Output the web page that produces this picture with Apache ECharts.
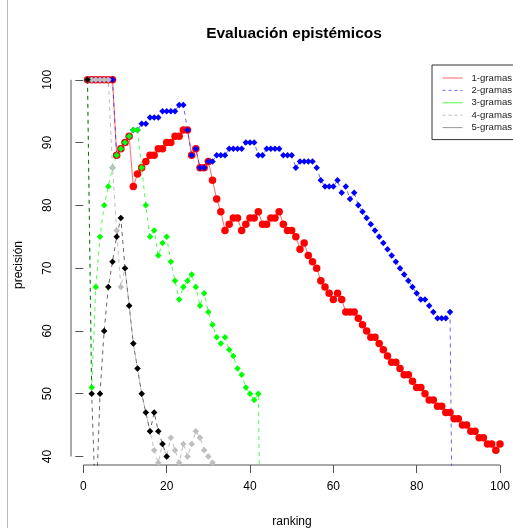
<!DOCTYPE html>
<html lang="es">
<head>
<meta charset="UTF-8">
<title>Evaluación epistémicos</title>
<script src="https://cdn.jsdelivr.net/npm/echarts@6/dist/echarts.min.js"></script>
<style>
    html, body { margin: 0; padding: 0; background: #fff; }
    #main { width: 513px; height: 528px; }
</style>
</head>
<body>
<div id="main"></div>
<script>
    // precision por ranking (posicion 1..n) para cada n-grama
    var nombres = ['1-gramas', '2-gramas', '3-gramas', '4-gramas', '5-gramas'];
    var gramas1 = [100, 100, 100, 100, 100, 100, 100, 88, 89, 90,
        91, 83, 85, 86, 87, 88, 88, 89, 89, 90,
        90, 91, 91, 92, 92, 88, 89, 86, 86, 87,
        84, 81, 79, 76, 77, 78, 78, 76, 77, 78,
        78, 79, 77, 77, 78, 78, 79, 77, 76, 76,
        75, 73, 74, 72, 71, 70, 68, 67, 66, 65,
        66, 65, 63, 63, 63, 62, 61, 60, 59, 59,
        58, 57, 56, 55, 55, 54, 53, 53, 52, 51,
        51, 50, 49, 49, 48, 48, 47, 47, 46, 46,
        45, 45, 44, 44, 43, 43, 42, 42, 41, 42];
    var gramas2 = [100, 100, 100, 100, 100, 100, 100, 88, 89, 90,
        91, 92, 92, 93, 93, 94, 94, 94, 95, 95,
        95, 95, 96, 96, 92, 88, 89, 86, 86, 87,
        87, 88, 88, 88, 89, 89, 89, 89, 90, 90,
        90, 88, 88, 89, 89, 89, 89, 88, 88, 88,
        86, 87, 87, 87, 87, 86, 84, 83, 83, 83,
        84, 82, 83, 81, 82, 80, 79, 78, 77, 76,
        75, 74, 73, 72, 71, 70, 69, 68, 67, 66,
        65, 65, 64, 63, 62, 62, 62, 63, 0];
    var gramas3 = [100, 51, 67, 75, 80, 83, 86, 88, 89, 90,
        91, 92, 92, 86, 80, 75, 76, 72, 74, 75,
        71, 68, 65, 67, 68, 69, 67, 64, 66, 63,
        61, 59, 58, 59, 57, 56, 54, 53, 51, 50,
        49, 50, 0];
    var gramas4 = [100, 100, 100, 100, 100, 100, 86, 76, 67, 70,
        64, 58, 54, 50, 47, 44, 41, 39, 42, 40,
        43, 41, 39, 42, 40, 42, 44, 43, 41, 40, 39];
    var gramas5 = [100, 50, 31, 50, 60, 67, 71, 75, 78, 70,
        64, 58, 54, 50, 47, 44, 47, 44, 42, 40];

    var xTicks = [0, 20, 40, 60, 80, 100];
    var yTicks = [40, 50, 60, 70, 80, 90, 100];
    // rango del dibujo como en R (datos +- 4%), cortado por la derecha
    var xMin = -2.96, xMax = 103.12;
    var yMin = 38.64, yMax = 102.36;

    var fuente = 'Liberation Sans, Arial, Helvetica, sans-serif';
    var gris = '#555';

    function pares(arr) {
        return arr.map(function (v, i) { return [i + 1, v]; });
    }

    var chart = echarts.init(document.getElementById('main'));

    var option = {
        animation: false,
        backgroundColor: '#fff',
        title: {
            text: 'Evaluación epistémicos',
            left: 294,
            top: 26,
            padding: 0,
            textAlign: 'center',
            textStyle: { fontFamily: fuente, fontSize: 15.5, fontWeight: 'bold', color: '#000' }
        },
        grid: { left: 71, top: 65, right: 0, height: 400, outerBoundsMode: 'none' },
        legend: {
            orient: 'vertical',
            left: 432,
            top: 65,
            padding: [8, 30, 7, 10],
            itemWidth: 20,
            itemHeight: 10,
            itemGap: 2.4,
            borderColor: '#333',
            borderWidth: 1,
            backgroundColor: '#fff',
            selectedMode: false,
            itemStyle: { opacity: 0 },
            lineStyle: { width: 1 },
            textStyle: { fontFamily: fuente, fontSize: 9.6, color: '#222', padding: [0, 0, 0, 4] },
            data: [
                { name: nombres[0], lineStyle: { type: 'solid', width: 1 } },
                { name: nombres[1], lineStyle: { type: [3, 3], width: 1 } },
                { name: nombres[2], lineStyle: { type: 'solid', width: 1 } },
                { name: nombres[3], lineStyle: { type: [3, 3], width: 1 } },
                { name: nombres[4], lineStyle: { type: 'solid', width: 1, color: '#555' } }
            ]
        },
        xAxis: {
            type: 'value',
            min: xMin,
            max: xMax,
            name: 'ranking',
            nameLocation: 'middle',
            nameGap: 51,
            nameTextStyle: { fontFamily: fuente, fontSize: 12, color: '#000' },
            axisLine: { show: false },
            splitLine: { show: false },
            axisTick: { show: true, length: 8, customValues: xTicks, lineStyle: { color: gris } },
            axisLabel: { customValues: xTicks, margin: 16, fontFamily: fuente, fontSize: 12, color: '#000' }
        },
        yAxis: {
            type: 'value',
            min: yMin,
            max: yMax,
            name: 'precisión',
            nameLocation: 'middle',
            nameGap: 46,
            nameTextStyle: { fontFamily: fuente, fontSize: 12, color: '#000' },
            axisLine: { show: false },
            splitLine: { show: false },
            axisTick: { show: true, length: 8, customValues: yTicks, lineStyle: { color: gris } },
            axisLabel: { customValues: yTicks, rotate: 90, margin: 17, fontFamily: fuente, fontSize: 12, color: '#000' }
        },
        series: [
            {
                name: nombres[0], type: 'line', data: pares(gramas1), clip: true, showAllSymbol: true,
                symbol: 'circle', symbolSize: 7.5,
                itemStyle: { color: '#ff0000' },
                lineStyle: { color: '#ff0000', width: 1, opacity: 0.6 }
            },
            {
                name: nombres[1], type: 'line', data: pares(gramas2), clip: true, showAllSymbol: true,
                symbol: 'diamond', symbolSize: 6.5,
                itemStyle: { color: '#0000ff' },
                lineStyle: { color: '#0000ff', width: 1, type: [4, 4], opacity: 0.6 }
            },
            {
                name: nombres[2], type: 'line', data: pares(gramas3), clip: true, showAllSymbol: true,
                symbol: 'diamond', symbolSize: 6.5,
                itemStyle: { color: '#00ff00' },
                lineStyle: { color: '#00ff00', width: 1, type: [4, 4], opacity: 0.7 }
            },
            {
                name: nombres[3], type: 'line', data: pares(gramas4), clip: true, showAllSymbol: true,
                symbol: 'diamond', symbolSize: 6.5,
                itemStyle: { color: '#bebebe' },
                lineStyle: { color: '#bebebe', width: 1, type: [4, 4] }
            },
            {
                name: nombres[4], type: 'line', data: pares(gramas5), clip: true, showAllSymbol: true,
                symbol: 'diamond', symbolSize: 6.5,
                itemStyle: { color: '#000000' },
                lineStyle: { color: '#000000', width: 1, type: [4, 4], opacity: 0.6 }
            }
        ]
    };
    chart.setOption(option);

    // lineas de los ejes al estilo R: solo entre el primer y el ultimo tick
    var esquina = chart.convertToPixel({ gridIndex: 0 }, [xMin, yMin]);
    var ini = chart.convertToPixel({ gridIndex: 0 }, [xTicks[0], yTicks[0]]);
    var fin = chart.convertToPixel({ gridIndex: 0 }, [xTicks[xTicks.length - 1], yTicks[yTicks.length - 1]]);
    chart.setOption({
        graphic: [
            {
                type: 'line', silent: true,
                shape: { x1: ini[0], y1: esquina[1], x2: fin[0], y2: esquina[1] },
                style: { stroke: gris, lineWidth: 1 }
            },
            {
                type: 'line', silent: true,
                shape: { x1: esquina[0], y1: ini[1], x2: esquina[0], y2: fin[1] },
                style: { stroke: gris, lineWidth: 1 }
            },
            {
                // borde gris a la izquierda de la imagen
                type: 'line', silent: true,
                shape: { x1: 7.5, y1: 0, x2: 7.5, y2: 528 },
                style: { stroke: '#bbb', lineWidth: 1 }
            }
        ]
    });
</script>
</body>
</html>
